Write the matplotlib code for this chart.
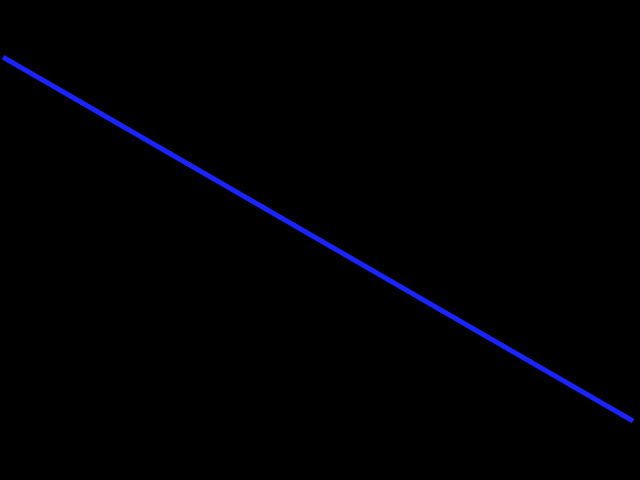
import matplotlib
matplotlib.use("Agg")
import matplotlib.pyplot as plt

# data
x_values = [0, 10]
y_values = [10, 0]

fig = plt.figure(figsize=(6.4, 4.8), dpi=100, facecolor="black")
ax = fig.add_axes([0, 0, 1, 1])
ax.set_facecolor("black")
ax.plot(x_values, y_values, color="#1a24ff", linewidth=3.6, solid_capstyle="butt")
ax.set_xlim(-0.048, 10.11)
ax.set_ylim(-1.62, 11.57)
ax.axis("off")

fig.savefig("out.png", dpi=100, facecolor="black")
